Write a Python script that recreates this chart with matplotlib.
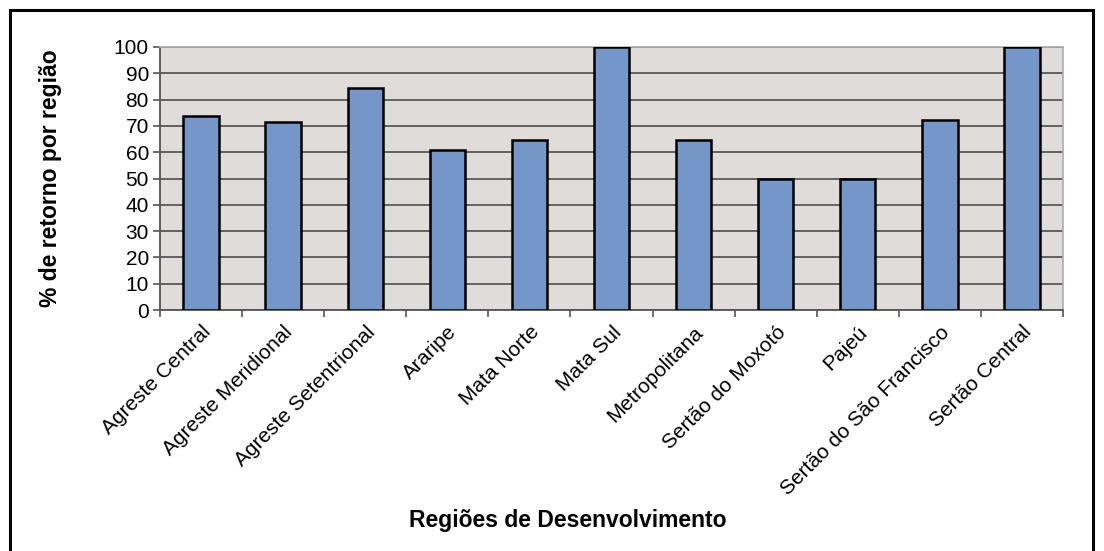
import numpy as np
import matplotlib
matplotlib.use("Agg")
import matplotlib.pyplot as plt
from matplotlib.patches import Rectangle

# ---------- Data ----------
regioes = ["Agreste Central", "Agreste Meridional", "Agreste Setentrional",
           "Araripe", "Mata Norte", "Mata Sul", "Metropolitana",
           "Sertão do Moxotó", "Pajeú", "Sertão do São Francisco",
           "Sertão Central"]
retorno = [73.8, 71.5, 84.5, 60.7, 64.6, 100, 64.6, 50, 50, 72.3, 100]
y_ticks = list(range(0, 101, 10))
# --------------------------

plt.rcParams["font.family"] = ["Liberation Sans", "DejaVu Sans"]

fig = plt.figure(figsize=(11.04, 5.51), dpi=100)
ax = fig.add_axes([160 / 1104, 1 - 310 / 551, 903 / 1104, 263 / 551])

# outer frame (bottom edge runs off the image)
fig.patches.append(Rectangle((10 / 1104, -0.1), 1083 / 1104, 1.1 - 10 / 551,
                             transform=fig.transFigure, fill=False,
                             edgecolor="black", linewidth=2.2))

x = np.arange(len(regioes))
ax.set_facecolor("#dfdcda")
ax.bar(x, retorno, width=0.43, color="#7596c9", edgecolor="black",
       linewidth=1.8, zorder=3)

ax.set_xlim(-0.5, len(regioes) - 0.5)
ax.set_ylim(0, 100)
ax.set_yticks(y_ticks)
ax.yaxis.grid(True, color="#5a5858", linewidth=1.3, zorder=1)
ax.set_axisbelow(True)

ax.set_xticks(np.arange(-0.5, len(regioes), 1.0))
ax.set_xticklabels([])
ax.set_xticks(x, minor=True)
ax.set_xticklabels(regioes, minor=True, rotation=45, ha="right",
                   rotation_mode="anchor", fontsize=15)
ax.tick_params(axis="x", which="minor", length=0, pad=9)
ax.tick_params(axis="x", which="major", length=5, width=1.2, color="#555555")
ax.tick_params(axis="y", length=5, width=1.2, color="#555555", labelsize=15, pad=3)

for side in ["top", "right"]:
    ax.spines[side].set_color("#b0aeac")
    ax.spines[side].set_linewidth(1.2)
for side in ["left", "bottom"]:
    ax.spines[side].set_color("#555555")
    ax.spines[side].set_linewidth(1.3)

ax.set_ylabel("% de retorno por região", fontsize=16.5, fontweight="bold")
ax.yaxis.set_label_coords(-98 / 903, 0.5)
fig.text(568 / 1104, 1 - 521 / 551, "Regiões de Desenvolvimento", ha="center",
         va="center", fontsize=16.5, fontweight="bold")

fig.savefig("out.png", dpi=100, facecolor="white")
